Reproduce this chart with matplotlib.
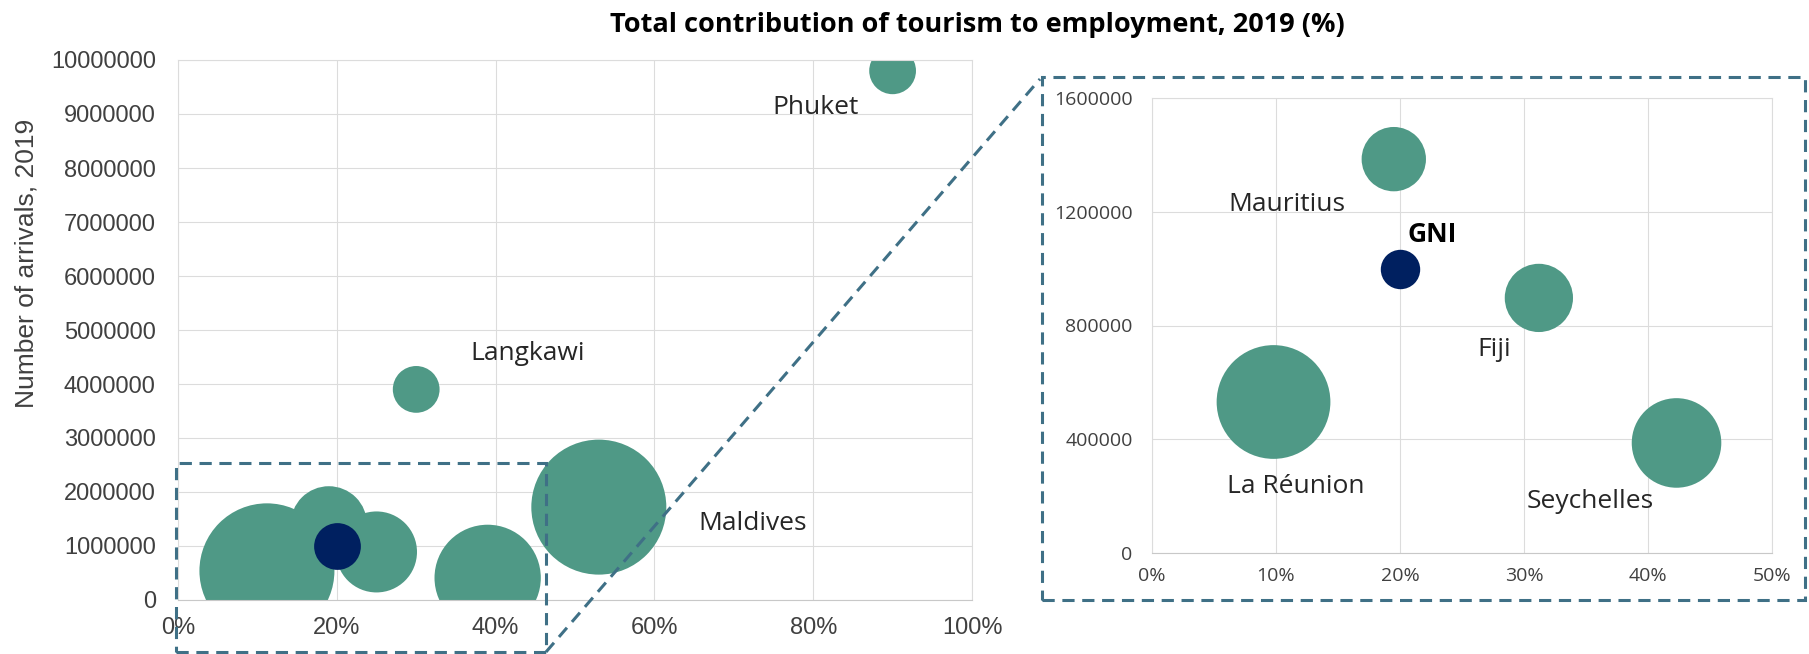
import matplotlib.pyplot as plt
from matplotlib.patches import Rectangle
from matplotlib.lines import Line2D
from matplotlib.ticker import FuncFormatter
import numpy as np

# overview panel: share of employment, arrivals, bubble size (largest = 100)
names = ["Phuket", "Langkawi", "Maldives", "La Réunion", "Mauritius", "Fiji", "Seychelles"]
employment = [0.90, 0.30, 0.53, 0.112, 0.19, 0.25, 0.39]
arrivals = [9800000, 3900000, 1720000, 540000, 1400000, 890000, 410000]
bubble = [12, 12, 100, 100, 32, 36, 62]

# close-up panel of the small islands
zoom_names = ["La Réunion", "Mauritius", "Fiji", "Seychelles"]
zoom_employment = [0.098, 0.195, 0.312, 0.423]
zoom_arrivals = [531000, 1385000, 897000, 387000]
zoom_bubble = [100, 32, 36, 62]

gni_employment = 0.20
gni_arrivals = 1000000
gni_bubble = 12

main_yticks = np.arange(0, 10000001, 1000000)
main_xticks = np.arange(0, 1.01, 0.2)
zoom_yticks = np.arange(0, 1600001, 400000)
zoom_xticks = np.arange(0, 0.51, 0.1)

TEAL = "#4F9986"
NAVY = "#002060"
DASH = "#3F7086"
GRID = "#DCDCDC"

W, H = 1809, 654
fig = plt.figure(figsize=(W / 100, H / 100), dpi=100)


def frac(left, top, right, bottom):
    return [left / W, 1 - bottom / H, (right - left) / W, (bottom - top) / H]


def areas(ax, values):
    # biggest bubble spans a quarter of the shorter side of the plot area
    box = ax.get_window_extent()
    d_max = 0.25 * min(box.width, box.height) * 72 / fig.dpi
    return np.asarray(values) / 100 * d_max ** 2


def style(ax, font, size, pad_x, pad_y):
    ax.grid(True, color=GRID, lw=0.8)
    ax.set_axisbelow(True)
    for s in ax.spines.values():
        s.set_color(GRID)
        s.set_linewidth(0.8)
    ax.spines["bottom"].set_color("#C8C8C8")
    ax.tick_params(length=0, labelcolor="#404040", labelsize=size)
    ax.tick_params(axis="x", pad=pad_x)
    ax.tick_params(axis="y", pad=pad_y)
    for lab in ax.get_xticklabels() + ax.get_yticklabels():
        lab.set_family(font)


pct = FuncFormatter(lambda v, _: f"{v * 100:.0f}%")
plain = FuncFormatter(lambda v, _: f"{v:.0f}")

# overview
ax = fig.add_axes(frac(178, 60, 972, 600))
ax.set_xlim(0, 1)
ax.set_ylim(0, 10000000)
ax.set_xticks(main_xticks)
ax.set_yticks(main_yticks)
ax.xaxis.set_major_formatter(pct)
ax.yaxis.set_major_formatter(plain)
ax.scatter(employment, arrivals, s=areas(ax, bubble), color=TEAL, lw=0, zorder=2)
ax.scatter([gni_employment], [gni_arrivals], s=areas(ax, [gni_bubble]), color=NAVY, lw=0, zorder=3)
style(ax, "Liberation Sans", 17, 12, 16)

main_offsets = {"Phuket": (-77, -37), "Langkawi": (111, 36), "Maldives": (154, -16)}
for n, x, y in zip(names, employment, arrivals):
    if n in main_offsets:
        ax.annotate(n, (x, y), xytext=main_offsets[n], textcoords="offset pixels",
                    ha="center", va="center", fontsize=19, family="Open Sans",
                    color="#262626", annotation_clip=False)

# close-up
az = fig.add_axes(frac(1152, 98, 1772, 553))
az.set_xlim(0, 0.5)
az.set_ylim(0, 1600000)
az.set_xticks(zoom_xticks)
az.set_yticks(zoom_yticks)
az.xaxis.set_major_formatter(pct)
az.yaxis.set_major_formatter(plain)
az.scatter(zoom_employment, zoom_arrivals, s=areas(az, zoom_bubble), color=TEAL, lw=0, zorder=2)
az.scatter([gni_employment], [gni_arrivals], s=areas(az, [gni_bubble]), color=NAVY, lw=0, zorder=3)
style(az, "Open Sans", 14, 10, 14)

zoom_offsets = {"La Réunion": (22, -85), "Mauritius": (-107, -45),
                "Fiji": (-45, -52), "Seychelles": (-86, -59)}
for n, x, y in zip(zoom_names, zoom_employment, zoom_arrivals):
    az.annotate(n, (x, y), xytext=zoom_offsets[n], textcoords="offset pixels",
                ha="center", va="center", fontsize=19, family="Open Sans", color="#262626")
az.annotate("GNI", (gni_employment, gni_arrivals), xytext=(32, 34), textcoords="offset pixels",
            ha="center", va="center", fontsize=19, family="Open Sans", weight="bold", color="black")

# titles
fig.text(977 / W, 1 - 32 / H, "Total contribution of tourism to employment, 2019 (%)",
         ha="center", va="baseline", fontsize=19.5, family="Open Sans", weight="bold")
fig.text(27 / W, 1 - 263 / H, "Number of arrivals, 2019", rotation=90,
         ha="center", va="center", fontsize=19, family="Liberation Sans", color="#404040")

# dashed zoom frame and connector
dash = dict(edgecolor=DASH, lw=2.2, linestyle=(0, (4, 2.5)), fill=False,
            transform=fig.transFigure)
fig.add_artist(Rectangle((176 / W, 1 - 652 / H), 370 / W, 189 / H, **dash))
fig.add_artist(Rectangle((1042 / W, 1 - 600 / H), 763 / W, 523 / H, **dash))
fig.add_artist(Line2D([546 / W, 1040 / W], [1 - 652 / H, 1 - 79 / H], color=DASH, lw=2.2,
                      linestyle=(0, (4, 2.5)), transform=fig.transFigure))

fig.savefig("out.png", dpi=100, facecolor="white")
